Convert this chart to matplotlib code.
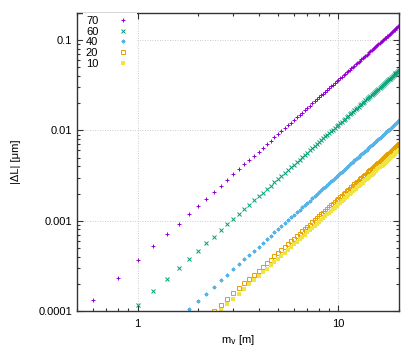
import numpy as np
import matplotlib
matplotlib.use("Agg")
import matplotlib.pyplot as plt
from matplotlib.ticker import FixedLocator, FixedFormatter, NullFormatter, LogLocator

plt.rcParams['font.family'] = ['Liberation Sans', 'DejaVu Sans']
plt.rcParams['font.size'] = 8

# m_v values [m]; each series ends at 20 m
mv = [0.2, 0.4, 0.6, 0.8, 1.0, 1.2, 1.4, 1.6, 1.8, 2.0,
      2.2, 2.4, 2.6, 2.8, 3.0, 3.2, 3.4, 3.6, 3.8, 4.0,
      4.2, 4.4, 4.6, 4.8, 5.0, 5.2, 5.4, 5.6, 5.8, 6.0,
      6.2, 6.4, 6.6, 6.8, 7.0, 7.2, 7.4, 7.6, 7.8, 8.0,
      8.2, 8.4, 8.6, 8.8, 9.0, 9.2, 9.4, 9.6, 9.8, 10.0,
      10.2, 10.4, 10.6, 10.8, 11.0, 11.2, 11.4, 11.6, 11.8, 12.0,
      12.2, 12.4, 12.6, 12.8, 13.0, 13.2, 13.4, 13.6, 13.8, 14.0,
      14.2, 14.4, 14.6, 14.8, 15.0, 15.2, 15.4, 15.6, 15.8, 16.0,
      16.2, 16.4, 16.6, 16.8, 17.0, 17.2, 17.4, 17.6, 17.8, 18.0,
      18.2, 18.4, 18.6, 18.8, 19.0, 19.2, 19.4, 19.6, 19.8, 20.0]

# |dL| in units of 1e-5 um
unit = 1e-5
y70 = [13.1, 23.2, 36.3, 52.3, 71.1, 92.9, 118, 145, 176, 209, 245, 285, 327, 372, 420, 470, 524, 581, 640, 703,
       768, 836, 907, 982, 1060, 1140, 1220, 1310, 1400, 1490, 1580, 1680, 1780, 1880, 1990, 2100, 2210, 2320,
       2440, 2560, 2680, 2810, 2940, 3070, 3210, 3350, 3490, 3630, 3780, 3930, 4080, 4230, 4390, 4550, 4720, 4880,
       5050, 5230, 5400, 5580, 5760, 5950, 6130, 6320, 6520, 6710, 6910, 7110, 7320, 7530, 7740, 7950, 8170, 8390,
       8610, 8830, 9060, 9290, 9530, 9760, 10000, 10200, 10500, 10700, 11000, 11200, 11500, 11800, 12000, 12300,
       12600, 12800, 13100, 13400, 13700, 13900, 14200, 14500]
y60 = [11.6, 16.7, 22.7, 29.7, 37.6, 46.4, 56.1, 66.8, 78.4, 90.9, 104, 119, 134, 150, 168, 186, 205, 225, 245, 267,
       290, 314, 338, 364, 390, 418, 446, 475, 505, 536, 568, 601, 635, 670, 706, 742, 780, 818, 858, 898, 940, 982,
       1020, 1070, 1110, 1160, 1210, 1250, 1300, 1350, 1400, 1460, 1510, 1560, 1620, 1670, 1730, 1780, 1840, 1900,
       1960, 2020, 2080, 2150, 2210, 2270, 2340, 2410, 2470, 2540, 2610, 2680, 2750, 2820, 2900, 2970, 3040, 3120,
       3200, 3270, 3350, 3430, 3510, 3590, 3680, 3760, 3840, 3930, 4010, 4100, 4190, 4280, 4370, 4460, 4550, 4640]
y40 = [10.5, 12.9, 15.6, 18.6, 21.8, 25.3, 29.1, 33.1, 37.3, 41.9, 46.6, 51.7, 57, 62.5, 68.3, 74.4, 80.7, 87.3,
       94.2, 101, 109, 116, 124, 132, 141, 149, 158, 167, 177, 187, 197, 207, 217, 228, 239, 250, 262, 273, 285,
       298, 310, 323, 336, 349, 363, 377, 391, 405, 420, 435, 450, 465, 481, 497, 513, 529, 546, 563, 580, 597, 615,
       633, 651, 670, 689, 707, 727, 746, 766, 786, 806, 827, 848, 869, 890, 912, 933, 956, 978, 1000, 1020, 1050,
       1070, 1090, 1120, 1140, 1170, 1190, 1220, 1240, 1270, 1290]
y20 = [10.1, 11.8, 13.7, 15.7, 17.9, 20.2, 22.7, 25.3, 28, 30.9, 33.9, 37, 40.3, 43.7, 47.3, 51, 54.9, 58.9, 63,
       67.3, 71.7, 76.2, 80.9, 85.7, 90.7, 95.8, 101, 106, 112, 118, 123, 129, 136, 142, 148, 155, 161, 168, 175,
       182, 189, 197, 204, 212, 220, 227, 235, 244, 252, 260, 269, 278, 287, 296, 305, 314, 324, 333, 343, 353, 363,
       373, 383, 394, 404, 415, 426, 437, 448, 459, 471, 482, 494, 506, 518, 530, 542, 554, 567, 580, 592, 605, 619,
       632, 645, 659, 672, 686, 700]
y10 = [10.3, 11.9, 13.7, 15.6, 17.6, 19.7, 21.9, 24.3, 26.8, 29.4, 32.2, 35, 38, 41.1, 44.3, 47.7, 51.1, 54.7, 58.4,
       62.3, 66.2, 70.3, 74.5, 78.8, 83.2, 87.8, 92.5, 97.3, 102, 107, 112, 118, 123, 129, 134, 140, 146, 152, 158,
       164, 171, 177, 184, 191, 198, 205, 212, 219, 226, 234, 241, 249, 257, 265, 273, 281, 289, 298, 306, 315, 324,
       333, 342, 351, 360, 370, 379, 389, 399, 409, 419, 429, 439, 450, 460, 471, 482, 492, 503, 515, 526, 537, 549,
       560, 572, 584, 596, 608]

labels = ["70", "60", "40", "20", "10"]
series = [y70, y60, y40, y20, y10]
colors = ["#9400d3", "#009e73", "#56b4e9", "#e69f00", "#f0e442"]
markers = ["+", "x", (8, 2, 0), "s", "s"]
msizes = [2.6, 2.2, 2.6, 2.4, 2.2]

fig = plt.figure(figsize=(4.2, 3.6), dpi=100)
ax = fig.add_axes([77 / 420, 49 / 360, 322 / 420, 298 / 360])
for lab, ys, col, m, ms in zip(labels, series, colors, markers, msizes):
    x = np.array(mv[-len(ys):])
    y = np.array(ys) * unit
    kw = dict(ls="none", marker=m, ms=ms, color=col, mew=0.7, label=lab)
    if lab == "20":
        kw["mfc"] = "none"
    if lab == "10":
        kw["mew"] = 0
    ax.plot(x, y, **kw)

ax.set_xscale("log")
ax.set_yscale("log")
ax.set_xlim(0.5, 20)
ax.set_ylim(1e-4, 0.2)
ax.yaxis.set_major_locator(FixedLocator([1e-4, 1e-3, 1e-2, 1e-1]))
ax.yaxis.set_major_formatter(FixedFormatter(["0.0001", "0.001", "0.01", "0.1"]))
ax.xaxis.set_major_locator(FixedLocator([1, 10]))
ax.xaxis.set_major_formatter(FixedFormatter(["1", "10"]))
ax.xaxis.set_minor_locator(LogLocator(base=10, subs=np.arange(2, 10)))
ax.yaxis.set_minor_locator(LogLocator(base=10, subs=np.arange(2, 10)))
ax.xaxis.set_minor_formatter(NullFormatter())
ax.yaxis.set_minor_formatter(NullFormatter())
ax.tick_params(which="both", direction="in", top=True, right=True, colors="#333333", labelcolor="black")
ax.tick_params(which="major", length=4, width=0.8)
ax.tick_params(which="minor", length=2, width=0.8)
ax.tick_params(axis="x", pad=6)
for sp in ax.spines.values():
    sp.set_color("#333333")
    sp.set_linewidth(1)
ax.grid(True, which="major", color="#bbbbbb", lw=0.6, ls=(0, (1, 2)))

ax.set_xlabel("m$_\\mathrm{v}$ [m]")
ax.set_ylabel("|ΔL| [μm]")
ax.xaxis.set_label_coords(0.5, (311 - 340) / 298)
ax.xaxis.label.set_va("center")
ax.yaxis.set_label_coords((16 - 77) / 322, 0.5)
ax.yaxis.label.set_va("center")

ax.legend(loc="upper left", bbox_to_anchor=(0.019, 1.0), markerfirst=False,
          frameon=True, fancybox=False, framealpha=1, edgecolor="none",
          borderpad=0.25, borderaxespad=0.0, labelspacing=0.07,
          handlelength=2, handletextpad=1.2, fontsize=8)

fig.savefig("out.png")
